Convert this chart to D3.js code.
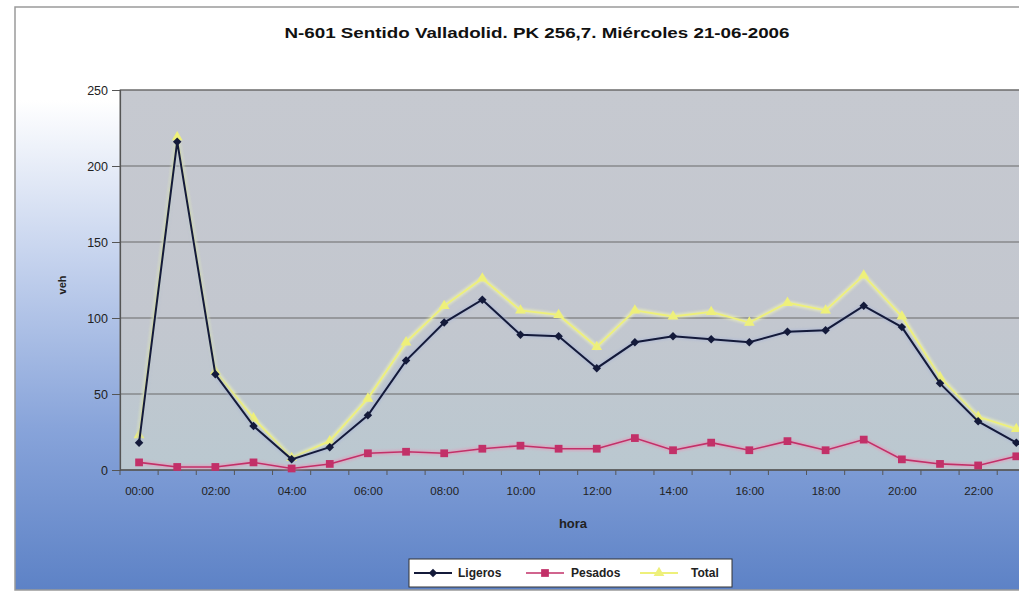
<!DOCTYPE html>
<html>
<head>
<meta charset="utf-8">
<script src="https://cdn.jsdelivr.net/npm/d3@7"></script>
<style>
  html, body { margin: 0; padding: 0; background: #ffffff; }
  svg { display: block; }
  text { font-family: "Liberation Sans", Arial, sans-serif; }
</style>
</head>
<body>
<svg id="chart" width="1019" height="596"></svg>
<script>
// ---- data ----
const hours = ["00:00","01:00","02:00","03:00","04:00","05:00","06:00","07:00","08:00","09:00","10:00","11:00",
               "12:00","13:00","14:00","15:00","16:00","17:00","18:00","19:00","20:00","21:00","22:00","23:00"];
const ligeros = [18, 216, 63, 29, 7, 15, 36, 72, 97, 112, 89, 88, 67, 84, 88, 86, 84, 91, 92, 108, 94, 57, 32, 18];
const pesados = [5, 2, 2, 5, 1, 4, 11, 12, 11, 14, 16, 14, 14, 21, 13, 18, 13, 19, 13, 20, 7, 4, 3, 9];
const total   = [23, 219, 65, 34, 8, 19, 47, 84, 108, 126, 105, 102, 81, 105, 101, 104, 97, 110, 105, 128, 101, 61, 35, 27];
const yTicks = [0, 50, 100, 150, 200, 250];
const xLabels = ["00:00","02:00","04:00","06:00","08:00","10:00","12:00","14:00","16:00","18:00","20:00","22:00"];
const titleText = "N-601 Sentido Valladolid. PK 256,7. Miércoles 21-06-2006";

const svg = d3.select("#chart");
const defs = svg.append("defs");

// chart area background gradient
const bg = defs.append("linearGradient").attr("id", "bgGrad").attr("x1", 0).attr("y1", 0).attr("x2", 0).attr("y2", 1);
[[0, "#ffffff"], [0.16, "#ffffff"], [0.38, "#d0dbf1"], [0.72, "#88a4da"], [1, "#5d82c6"]]
  .forEach(([o, c]) => bg.append("stop").attr("offset", o).attr("stop-color", c));

const pg = defs.append("linearGradient").attr("id", "plotGrad").attr("x1", 0).attr("y1", 0).attr("x2", 0).attr("y2", 1);
[[0, "#c6c9d0"], [0.6, "#c3c7cf"], [1, "#bac8d0"]]
  .forEach(([o, c]) => pg.append("stop").attr("offset", o).attr("stop-color", c));

const glow = defs.append("filter").attr("id", "glow").attr("x", "-50%").attr("y", "-50%").attr("width", "200%").attr("height", "200%");
glow.append("feGaussianBlur").attr("stdDeviation", 1.2);

// frame
svg.append("rect").attr("x", 15).attr("y", 7).attr("width", 1030).attr("height", 583)
  .attr("fill", "url(#bgGrad)").attr("stroke", "#9a9a9a").attr("stroke-width", 1.5);

const pLeft = 120, pTop = 90, pBottom = 470;
const step = 38.14;
const x = d3.scalePoint().domain(hours).range([pLeft + step / 2, pLeft + step / 2 + step * 23]);
const y = d3.scaleLinear().domain([0, 250]).range([pBottom, pTop]);
const pRight = pLeft + step * 24;

// plot area
svg.append("rect").attr("x", pLeft).attr("y", pTop).attr("width", pRight - pLeft).attr("height", pBottom - pTop)
  .attr("fill", "url(#plotGrad)").attr("stroke", "#6e6e6e").attr("stroke-width", 1);

// gridlines
svg.append("g").selectAll("line").data(yTicks.filter(d => d > 0)).join("line")
  .attr("x1", pLeft).attr("x2", pRight)
  .attr("y1", d => y(d)).attr("y2", d => y(d))
  .attr("stroke", "#6a6a6a").attr("stroke-width", 1.2);

// y axis
const yAxis = d3.axisLeft(y).tickValues(yTicks).tickSize(8).tickPadding(4).tickFormat(d3.format("d"));
const gy = svg.append("g").attr("transform", `translate(${pLeft},0)`).call(yAxis);
gy.select(".domain").attr("stroke", "#555").attr("stroke-width", 1.2);
gy.selectAll(".tick line").attr("stroke", "#555");
gy.selectAll(".tick text").attr("font-size", 12.5).attr("fill", "#222")
  .attr("font-family", "'Liberation Sans Narrow', 'Liberation Sans', Arial, sans-serif");

// x axis
const xAxis = d3.axisBottom(x).tickValues(xLabels).tickSize(0).tickPadding(17);
const gx = svg.append("g").attr("transform", `translate(0,${pBottom})`).call(xAxis);
gx.select(".domain").remove();
gx.selectAll(".tick text").attr("font-size", 11.5).attr("fill", "#222")
  .attr("font-family", "'Liberation Sans Narrow', 'Liberation Sans', Arial, sans-serif");
// axis line & tick marks between categories
svg.append("line").attr("x1", pLeft).attr("x2", pRight).attr("y1", pBottom).attr("y2", pBottom)
  .attr("stroke", "#555").attr("stroke-width", 1.5);
svg.append("g").selectAll("line").data(d3.range(25)).join("line")
  .attr("x1", i => pLeft + i * step).attr("x2", i => pLeft + i * step)
  .attr("y1", pBottom).attr("y2", pBottom + 5)
  .attr("stroke", "#555").attr("stroke-width", 1);

// title & axis titles
svg.append("text").attr("x", 537).attr("y", 38).attr("text-anchor", "middle")
  .attr("font-family", "'Liberation Sans Narrow', 'Liberation Sans', Arial, sans-serif")
  .attr("font-size", 15).attr("font-weight", "bold").attr("fill", "#111")
  .attr("textLength", 505).attr("lengthAdjust", "spacingAndGlyphs").text(titleText);
svg.append("text").attr("transform", "translate(66,285) rotate(-90)").attr("text-anchor", "middle")
  .attr("font-size", 11).attr("font-weight", "bold").attr("fill", "#222").text("veh");
svg.append("text").attr("x", 573).attr("y", 528).attr("text-anchor", "middle")
  .attr("font-family", "'Liberation Sans Narrow', 'Liberation Sans', Arial, sans-serif")
  .attr("font-size", 13).attr("font-weight", "bold").attr("fill", "#222").text("hora");

// series
const line = d3.line().x((d, i) => x(hours[i])).y(d => y(d));
const series = [
  { name: "Total", values: total, color: "#eef07a", width: 1.8, marker: "triangle" },
  { name: "Ligeros", values: ligeros, color: "#141a3a", width: 2, marker: "diamond" },
  { name: "Pesados", values: pesados, color: "#c23068", width: 1.6, marker: "square" }
];
const symType = { triangle: d3.symbolTriangle, diamond: d3.symbolSquare, square: d3.symbolSquare };
const symSize = { triangle: 50, diamond: 36, square: 60 };
const symRot = { triangle: 0, diamond: 45, square: 0 };
const glowColor = { Total: "#fbffb0", Ligeros: "#a8b4d6", Pesados: "#f08cb4" };

const gS = svg.append("g");
series.forEach(s => {
  gS.append("path").datum(s.values).attr("d", line).attr("fill", "none")
    .attr("stroke", glowColor[s.name]).attr("stroke-width", s.width + 3).attr("opacity", 0.5).attr("filter", "url(#glow)");
  gS.append("path").datum(s.values).attr("d", line).attr("fill", "none")
    .attr("stroke", s.color).attr("stroke-width", s.width);
  gS.selectAll(null).data(s.values).join("path")
    .attr("transform", (d, i) => `translate(${x(hours[i])},${y(d)}) rotate(${symRot[s.marker]})`)
    .attr("d", d3.symbol().type(symType[s.marker]).size(symSize[s.marker]))
    .attr("fill", s.color);
});

// legend
const lg = svg.append("g");
lg.append("rect").attr("x", 409).attr("y", 559).attr("width", 323).attr("height", 28)
  .attr("fill", "#ffffff").attr("stroke", "#333").attr("stroke-width", 1);
const legendItems = [
  { s: series[1], x0: 414, tx: 458 },
  { s: series[2], x0: 526, tx: 571 },
  { s: series[0], x0: 640, tx: 691 }
];
legendItems.forEach(it => {
  lg.append("line").attr("x1", it.x0).attr("x2", it.x0 + 38).attr("y1", 573).attr("y2", 573)
    .attr("stroke", it.s.color).attr("stroke-width", it.s.width);
  lg.append("path").attr("transform", `translate(${it.x0 + 19},573) rotate(${symRot[it.s.marker]})`)
    .attr("d", d3.symbol().type(symType[it.s.marker]).size(symSize[it.s.marker]))
    .attr("fill", it.s.color);
  lg.append("text").attr("x", it.tx).attr("y", 577)
    .attr("font-family", "'Liberation Sans Narrow', 'Liberation Sans', Arial, sans-serif")
    .attr("font-size", 12).attr("font-weight", "bold")
    .attr("fill", "#222").text(it.s.name);
});
</script>
</body>
</html>
